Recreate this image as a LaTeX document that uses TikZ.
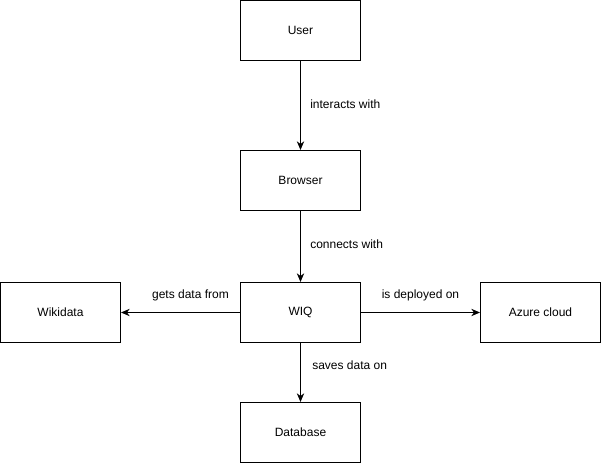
\documentclass[tikz,border=0pt]{standalone}
\usepackage{fontspec}
\setmainfont{Liberation Sans}
\usepackage{tikz}
\usetikzlibrary{arrows.meta,positioning}

\begin{document}
\begin{tikzpicture}[x=0.75pt,y=-0.75pt]
			\tikzstyle{Box}		= [rectangle, draw, line width=0.75pt, fill=white, minimum width=90pt, minimum height=45pt, inner sep=0pt, font=\fontsize{9}{11}\selectfont]
			\tikzstyle{Rel}		= [inner sep=0pt, font=\fontsize{9}{11}\selectfont]
			\tikzstyle{Link}	= [line width=0.75pt, -{Stealth[length=6.5pt,width=5.5pt,inset=2pt]}]

			\useasboundingbox (0,0) rectangle (601,463);

			\node (user) at (300.5, 30.5) [Box] {User};
			\node (browser) at (300.5, 180.5) [Box] {Browser};
			\node (wiq) at (300.5, 312.5) [Box] {WIQ};
			\node (wikidata) at (60.5, 312.5) [Box] {Wikidata};
			\node (azure) at (540.5, 312.5) [Box] {Azure cloud};
			\node (database) at (300.5, 432.5) [Box] {Database};

			\node (interacts) at (310, 104.5) [Rel, anchor=west] {interacts with};
			\node (connects) at (310, 244.5) [Rel, anchor=west] {connects with};
			\node (gets) at (190.5, 295.5) [Rel] {gets data from};
			\node (deployed) at (420.5, 295.5) [Rel] {is deployed on};
			\node (saves) at (312, 365.5) [Rel, anchor=west] {saves data on};

			\draw [Link] (user) to (browser);
			\draw [Link] (browser) to (wiq);
			\draw [Link] (wiq) to (wikidata);
			\draw [Link] (wiq) to (azure);
			\draw [Link] (wiq) to (database);
		\end{tikzpicture}
\end{document}
